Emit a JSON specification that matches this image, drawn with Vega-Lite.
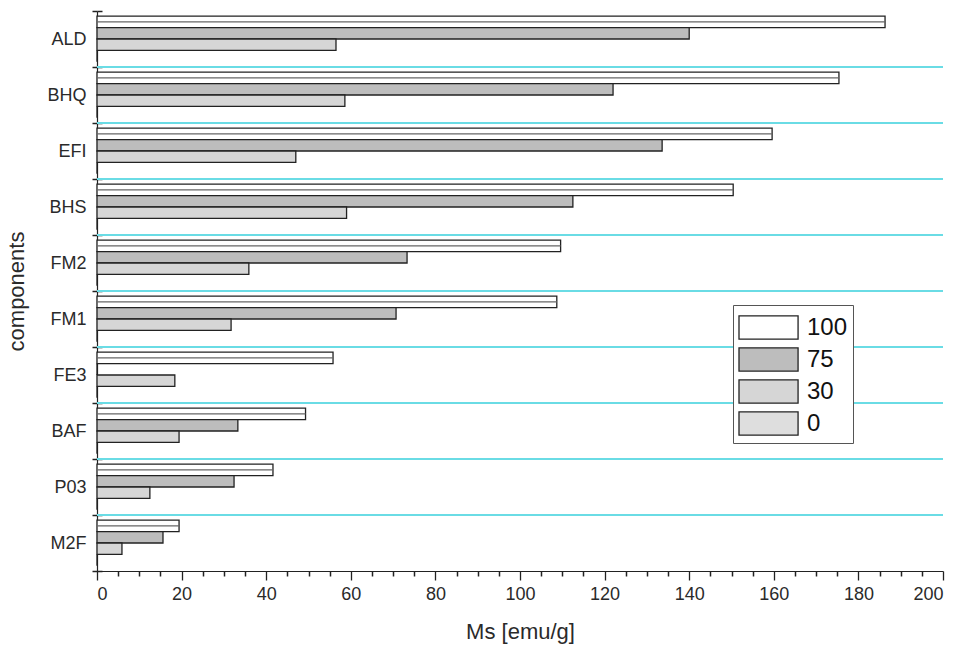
{
  "$schema": "https://vega.github.io/schema/vega-lite/v6.json",
  "autosize": {"type": "none"},
  "width": 846,
  "height": 560,
  "padding": {"left": 97, "top": 11, "right": 16, "bottom": 77},
  "background": "#ffffff",
  "config": {
    "font": "Liberation Sans",
    "view": {"stroke": null},
    "axis": {
      "labelFont": "Liberation Sans",
      "titleFont": "Liberation Sans",
      "labelColor": "#2a2a2a",
      "titleColor": "#2a2a2a",
      "titleFontWeight": "normal",
      "domainColor": "#222222",
      "tickColor": "#222222"
    }
  },
  "data": {
    "values": [
      {"component": "ALD", "series": "100", "ms": 186.3},
      {"component": "ALD", "series": "75", "ms": 140.0},
      {"component": "ALD", "series": "30", "ms": 56.5},
      {"component": "ALD", "series": "0", "ms": 0},
      {"component": "BHQ", "series": "100", "ms": 175.4},
      {"component": "BHQ", "series": "75", "ms": 122.0},
      {"component": "BHQ", "series": "30", "ms": 58.6},
      {"component": "BHQ", "series": "0", "ms": 0},
      {"component": "EFI", "series": "100", "ms": 159.6},
      {"component": "EFI", "series": "75", "ms": 133.6},
      {"component": "EFI", "series": "30", "ms": 47.0},
      {"component": "EFI", "series": "0", "ms": 0},
      {"component": "BHS", "series": "100", "ms": 150.4},
      {"component": "BHS", "series": "75", "ms": 112.5},
      {"component": "BHS", "series": "30", "ms": 59.0},
      {"component": "BHS", "series": "0", "ms": 0},
      {"component": "FM2", "series": "100", "ms": 109.6},
      {"component": "FM2", "series": "75", "ms": 73.3},
      {"component": "FM2", "series": "30", "ms": 35.9},
      {"component": "FM2", "series": "0", "ms": 0},
      {"component": "FM1", "series": "100", "ms": 108.7},
      {"component": "FM1", "series": "75", "ms": 70.7},
      {"component": "FM1", "series": "30", "ms": 31.7},
      {"component": "FM1", "series": "0", "ms": 0},
      {"component": "FE3", "series": "100", "ms": 55.8},
      {"component": "FE3", "series": "75", "ms": 0},
      {"component": "FE3", "series": "30", "ms": 18.4},
      {"component": "FE3", "series": "0", "ms": 0},
      {"component": "BAF", "series": "100", "ms": 49.3},
      {"component": "BAF", "series": "75", "ms": 33.3},
      {"component": "BAF", "series": "30", "ms": 19.4},
      {"component": "BAF", "series": "0", "ms": 0},
      {"component": "P03", "series": "100", "ms": 41.6},
      {"component": "P03", "series": "75", "ms": 32.4},
      {"component": "P03", "series": "30", "ms": 12.5},
      {"component": "P03", "series": "0", "ms": 0},
      {"component": "M2F", "series": "100", "ms": 19.4},
      {"component": "M2F", "series": "75", "ms": 15.6},
      {"component": "M2F", "series": "30", "ms": 5.9},
      {"component": "M2F", "series": "0", "ms": 0}
    ]
  },
  "resolve": {"axis": {"x": "independent", "y": "independent"}},
  "layer": [
    {
      "transform": [{"filter": "datum.series === '100' && datum.component !== 'ALD'"}],
      "mark": {"type": "rule", "color": "#6adce5", "strokeWidth": 2},
      "encoding": {
        "y": {
          "field": "component",
          "type": "nominal",
          "bandPosition": 0,
          "sort": ["ALD", "BHQ", "EFI", "BHS", "FM2", "FM1", "FE3", "BAF", "P03", "M2F"],
          "axis": null
        }
      }
    },
    {
      "mark": {"type": "bar", "stroke": "#222222", "strokeWidth": 1.3, "orient": "horizontal"},
      "encoding": {
        "y": {
          "field": "component",
          "type": "nominal",
          "sort": ["ALD", "BHQ", "EFI", "BHS", "FM2", "FM1", "FE3", "BAF", "P03", "M2F"],
          "scale": {"paddingInner": 0, "paddingOuter": 0},
          "axis": {
            "orient": "left",
            "title": "components",
            "titleFontSize": 22,
            "titlePadding": 18,
            "labelFontSize": 18,
            "labelPadding": 6,
            "tickBand": "extent",
            "tickSize": 5,
            "tickWidth": 1.5,
            "domainWidth": 1.2,
            "grid": false
          }
        },
        "yOffset": {
          "field": "series",
          "type": "nominal",
          "scale": {"domain": ["100", "75", "30", "0"], "paddingOuter": 0.45, "paddingInner": 0}
        },
        "x": {
          "field": "ms",
          "type": "quantitative",
          "scale": {"domain": [0, 200], "nice": false, "zero": true},
          "axis": {
            "orient": "bottom",
            "title": "Ms [emu/g]",
            "titleFontSize": 22,
            "titlePadding": 18,
            "labelFontSize": 18,
            "labelPadding": 5,
            "values": [0, 20, 40, 60, 80, 100, 120, 140, 160, 180, 200],
            "tickSize": 9,
            "tickWidth": 1.3,
            "domainWidth": 1.2,
            "grid": false
          }
        },
        "fill": {
          "field": "series",
          "type": "nominal",
          "scale": {"domain": ["100", "75", "30", "0"], "range": ["#ffffff", "#bdbdbd", "#d6d6d6", "#dedede"]},
          "legend": {
            "title": null,
            "orient": "none",
            "legendX": 636,
            "legendY": 294,
            "direction": "vertical",
            "labelFontSize": 24,
            "labelColor": "#111111",
            "labelFont": "Liberation Sans",
            "symbolType": "M-1,-0.7H2.58V0.7H-1Z",
            "symbolSize": 1089,
            "symbolStrokeColor": "#222222",
            "symbolStrokeWidth": 1.3,
            "symbolOpacity": 1,
            "rowPadding": 0,
            "labelOffset": 34,
            "padding": 5,
            "strokeColor": "#555555",
            "fillColor": "#ffffff",
            "offset": 0
          }
        }
      }
    },
    {
      "transform": [{"filter": "datum.series === '100' && datum.ms > 0"}],
      "mark": {"type": "bar", "color": "#666666", "height": 1.2, "orient": "horizontal"},
      "encoding": {
        "y": {
          "field": "component",
          "type": "nominal",
          "sort": ["ALD", "BHQ", "EFI", "BHS", "FM2", "FM1", "FE3", "BAF", "P03", "M2F"],
          "axis": {
            "orient": "left",
            "title": null,
            "labels": false,
            "domain": false,
            "grid": false,
            "tickBand": "extent",
            "tickSize": -5,
            "tickWidth": 1.5
          }
        },
        "yOffset": {
          "field": "series",
          "type": "nominal"
        },
        "x": {
          "field": "ms",
          "type": "quantitative",
          "axis": {
            "orient": "bottom",
            "title": null,
            "labels": false,
            "domain": false,
            "grid": false,
            "values": [5, 10, 15, 25, 30, 35, 45, 50, 55, 65, 70, 75, 85, 90, 95, 105, 110, 115, 125, 130, 135, 145, 150, 155, 165, 170, 175, 185, 190, 195],
            "tickSize": 5,
            "tickWidth": 1.5
          }
        }
      }
    }
  ]
}
